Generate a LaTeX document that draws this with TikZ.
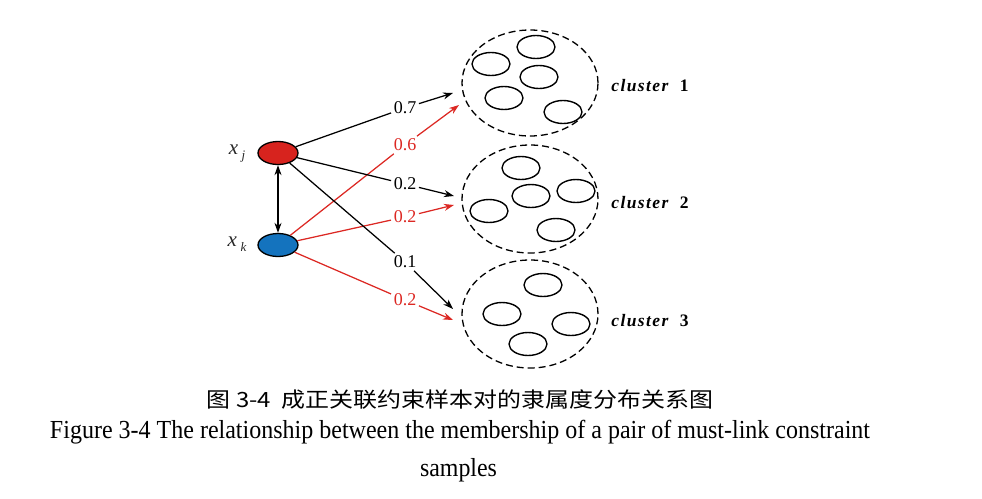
\documentclass[tikz,border=0pt]{standalone}
\usepackage{fontspec}
\usepackage{graphicx}
\usetikzlibrary{shapes.geometric,arrows.meta}
\newfontfamily\cjkfont{Noto Sans CJK SC}
\newfontfamily\capfont{Liberation Serif}
\newfontfamily\clfont[LetterSpace=8]{Liberation Serif}
\definecolor{myred}{RGB}{215,35,30}
\definecolor{myblue}{RGB}{20,115,190}
\definecolor{lred}{RGB}{220,40,35}
\newcommand{\subvar}[1]{\capfont\itshape x\,\raisebox{-5pt}{\fontsize{13}{13}\selectfont #1}}
\tikzset{
  sample/.style={ellipse, draw, line width=1.3pt, minimum width=40pt, minimum height=23pt, inner sep=0pt},
  cluster/.style={ellipse, draw, dash pattern=on 7pt off 4pt, line width=1.3pt, inner sep=0pt, minimum width=136pt},
  item/.style={ellipse, draw, line width=1.4pt, minimum width=38pt, minimum height=23pt, inner sep=0pt},
  wlbl/.style={font=\capfont\fontsize{18}{18}\selectfont, inner sep=2.5pt},
  tip/.style={-{Stealth[length=10pt,width=7pt]}},
  conn/.style={line width=1.25pt, tip},
  cllbl/.style={font=\clfont\fontsize{17.5}{17.5}\selectfont\bfseries, inner sep=0pt},
  mlbl/.style={font=\fontsize{21}{21}\selectfont, inner sep=0pt, text=black!85}
}
\begin{document}
\begin{tikzpicture}[x=1pt,y=-1pt]
\useasboundingbox (0,0) rectangle (982,498);
% samples
\node[sample, fill=myred] (xj) at (278,153) {};
\node[sample, fill=myblue] (xk) at (278,245) {};
\node[mlbl] (lxj) at (237,154) {\subvar{j}};
\node[mlbl] (lxk) at (237,244) {\subvar{k}};
\draw[line width=1.25pt, {Stealth[length=10pt,width=7pt]}-{Stealth[length=10pt,width=7pt]}] (xj) -- (xk);
% clusters
\node[cluster, minimum height=106pt] (c1) at (530,83) {};
\node[cluster, minimum height=108pt] (c2) at (530,199) {};
\node[cluster, minimum height=108pt] (c3) at (530,314) {};
% items cluster 1
\node[item] (a1) at (491,64) {};
\node[item] (a2) at (536,47) {};
\node[item] (a3) at (539,77) {};
\node[item] (a4) at (504,98) {};
\node[item] (a5) at (563,112) {};
% items cluster 2
\node[item] (b1) at (521,168) {};
\node[item] (b2) at (531,196) {};
\node[item] (b3) at (576,191) {};
\node[item] (b4) at (489,211) {};
\node[item] (b5) at (556,230) {};
% items cluster 3
\node[item] (d1) at (543,285) {};
\node[item] (d2) at (502,314) {};
\node[item] (d3) at (571,324) {};
\node[item] (d4) at (528,344) {};
% cluster labels
\node[cllbl] (n1) at (650,86) {\itshape cluster\ \ \upshape 1};
\node[cllbl] (n2) at (650,203) {\itshape cluster\ \ \upshape 2};
\node[cllbl] (n3) at (650,321) {\itshape cluster\ \ \upshape 3};
% arrow ends
\coordinate (e1a) at (453,93);
\coordinate (e1b) at (459,105);
\coordinate (e2a) at (454,196);
\coordinate (e2b) at (454,205);
\coordinate (e3a) at (453,309);
\coordinate (e3b) at (453,320);
% weight labels
\node[wlbl] (l1) at (405,108) {0.7};
\node[wlbl, text=lred] (l2) at (405,145) {0.6};
\node[wlbl] (l3) at (405,184) {0.2};
\node[wlbl, text=lred] (l4) at (405,217) {0.2};
\node[wlbl] (l5) at (405,262) {0.1};
\node[wlbl, text=lred] (l6) at (405,300) {0.2};
% connectors
\draw[conn] (xj) -- (l1) -- (e1a);
\draw[conn, lred] (xk) -- (l2) -- (e1b);
\draw[conn] (xj) -- (l3) -- (e2a);
\draw[conn, lred] (xk) -- (l4) -- (e2b);
\draw[conn] (xj) -- (l5) -- (e3a);
\draw[conn, lred] (xk) -- (l6) -- (e3b);
% captions
\node[inner sep=0pt] (cap1) at (460,400) {\resizebox{506pt}{\height}{\cjkfont\fontsize{21}{21}\selectfont 图 3-4\ \ 成正关联约束样本对的隶属度分布关系图}};
\node[inner sep=0pt] (cap2) at (460,432) {\resizebox{820pt}{\height}{\capfont\fontsize{26}{26}\selectfont Figure 3-4 The relationship between the membership of a pair of must-link constraint}};
\node[inner sep=0pt] (cap3) at (458.5,470) {\resizebox{77pt}{\height}{\capfont\fontsize{26}{26}\selectfont samples}};
\end{tikzpicture}
\end{document}
